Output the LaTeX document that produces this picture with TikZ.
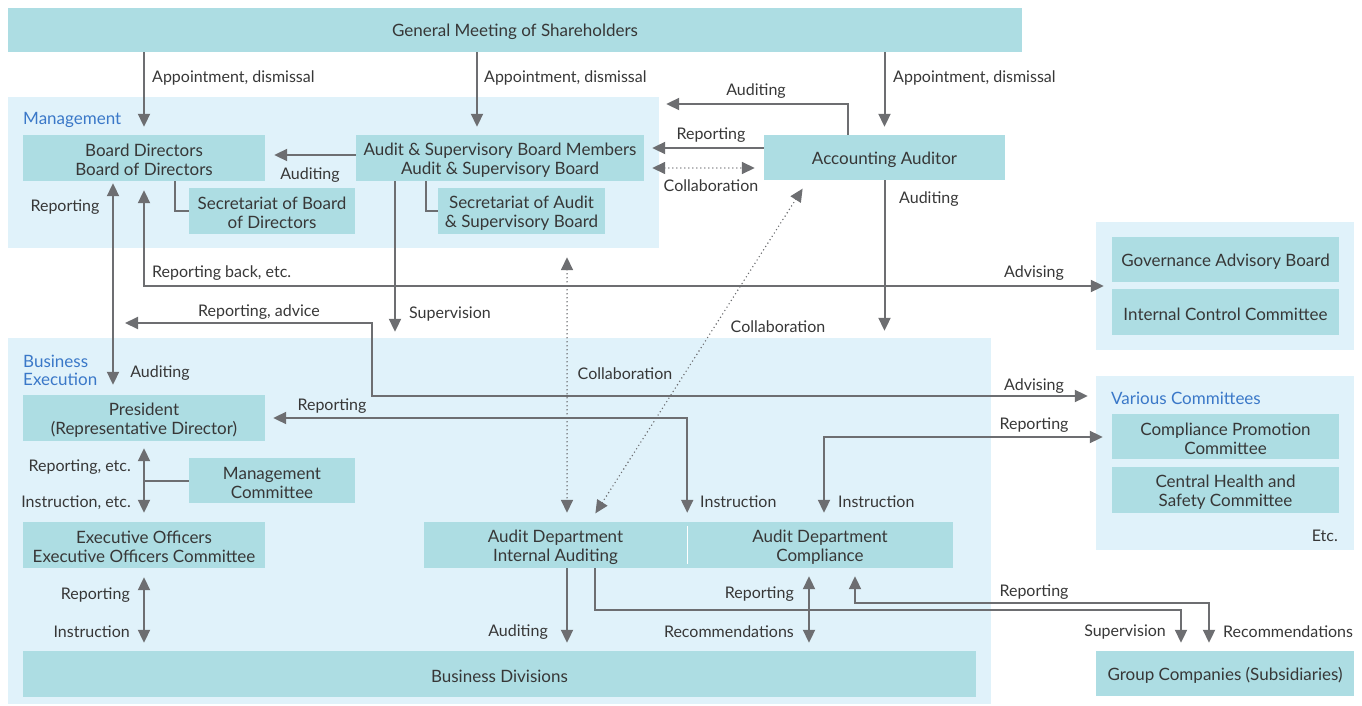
\documentclass[tikz,border=0pt]{standalone}
\usepackage{fontspec}
\setmainfont{Lato}
\usetikzlibrary{arrows.meta,calc}
\definecolor{boxc}{RGB}{173,221,227}
\definecolor{regc}{RGB}{224,242,250}
\definecolor{linec}{RGB}{109,110,113}
\definecolor{txtc}{RGB}{55,55,55}
\definecolor{bluec}{RGB}{58,120,200}
\begin{document}
\begin{tikzpicture}[x=1pt,y=-1pt,
  every node/.style={text=txtc, font=\fontsize{17}{19}\selectfont},
  bt/.style={inner sep=0pt, align=center, yshift=-2pt},
  box/.style={fill=boxc, inner sep=0pt, label={[bt]center:#1}},
  region/.style={fill=regc, inner sep=0pt},
  lbl/.style={inner sep=0pt, yshift=-2pt, font=\fontsize{16}{18}\selectfont},
  rlbl/.style={inner sep=0pt, yshift=-2pt, text=bluec, anchor=west, align=left, font=\fontsize{17}{18}\selectfont},
  >={Triangle[length=13pt,width=12pt]},
  conn/.style={draw=linec, line width=2pt},
  arr/.style={conn, ->},
  barr/.style={conn, <->},
  dotarr/.style={draw=linec, line width=1.6pt, line cap=round, dash pattern=on 0pt off 4pt, <->}
]
\useasboundingbox (0,0) rectangle (1362,706);

% regions
\node[region, minimum width=651, minimum height=151] (mgmt) at (333.5,172.5) {};
\node[region, minimum width=983, minimum height=366] (bexec) at (499.5,521) {};
\node[region, minimum width=258, minimum height=128] (gov) at (1225,286) {};
\node[region, minimum width=258, minimum height=174] (var) at (1225,463) {};

\node[rlbl] (mgmtl) at (23,118) {Management};
\node[rlbl] (bexecl) at (23,368) {Business\\Execution};
\node[rlbl] (varl) at (1111,396) {Various Committees};

% boxes
\node[box={General Meeting of Shareholders}, minimum width=1014, minimum height=44] (gms) at (515,30) {};
\node[box={Board Directors\\Board of Directors}, minimum width=242, minimum height=46] (bod) at (144,158) {};
\node[box={Secretariat of Board\\of Directors}, minimum width=166, minimum height=46] (secb) at (272,211) {};
\node[box={Audit \& Supervisory Board Members\\Audit \& Supervisory Board}, minimum width=288, minimum height=46] (asb) at (500,158) {};
\node[box={Secretariat of Audit\\\& Supervisory Board}, minimum width=167, minimum height=46] (seca) at (521.5,211) {};
\node[box={Accounting Auditor}, minimum width=241, minimum height=45] (aa) at (884.5,157.5) {};
\node[box={Governance Advisory Board}, minimum width=227, minimum height=45] (gab) at (1225.5,259.5) {};
\node[box={Internal Control Committee}, minimum width=227, minimum height=46] (icc) at (1225.5,312) {};
\node[box={President\\(Representative Director)}, minimum width=242, minimum height=46] (pres) at (144,418) {};
\node[box={Management\\Committee}, minimum width=166, minimum height=45] (mc) at (272,480.5) {};
\node[box={Executive Officers\\Executive Officers Committee}, minimum width=242, minimum height=46] (eo) at (144,545) {};
\node[box={Audit Department\\Internal Auditing}, minimum width=263, minimum height=46] (adi) at (555.5,545) {};
\node[box={Audit Department\\Compliance}, minimum width=266, minimum height=46] (adc) at (820,545) {};
\node[box={Compliance Promotion\\Committee}, minimum width=227, minimum height=45] (cpc) at (1225.5,436.5) {};
\node[box={Central Health and\\Safety Committee}, minimum width=227, minimum height=46] (chs) at (1225.5,490) {};
\node[box={Business Divisions}, minimum width=953, minimum height=46] (bd) at (499.5,674) {};
\node[box={Group Companies (Subsidiaries)}, minimum width=258, minimum height=45] (gc) at (1225,673.5) {};
\draw[white, line width=1pt] (687,526) -- (687,564);
\node[lbl, anchor=east] (etc) at (1338,534) {Etc.};

% helper coordinates
\coordinate (x113) at (113,0);
\coordinate (x175) at (175,0);
\coordinate (x395) at (395,0);
\coordinate (x426) at (426,0);
\coordinate (x477) at (477,0);
\coordinate (x567) at (567,0);
\coordinate (x595) at (595,0);
\coordinate (x808) at (808,0);
\coordinate (x590) at (590,0);
\coordinate (x809) at (809,0);
\coordinate (x824) at (824,0);
\coordinate (x848) at (848,0);
\coordinate (x855) at (855,0);
\coordinate (x1181) at (1181,0);
\coordinate (x1209) at (1209,0);
\coordinate (y104) at (0,104);
\coordinate (y148) at (0,148);
\coordinate (y155) at (0,155);
\coordinate (y168) at (0,168);
\coordinate (y286) at (0,286);
\coordinate (y396) at (0,396);
\coordinate (y418) at (0,418);
\coordinate (y437) at (0,437);
\coordinate (y603) at (0,603);
\coordinate (y610) at (0,610);
\coordinate (radv) at (125,323);
\coordinate (radvk) at (372,323);

% connectors
\draw[arr, shorten >=8pt] (gms.south -| bod) -- (bod.north);
\draw[arr, shorten >=8pt] (gms.south -| x477) -- (asb.north -| x477);
\draw[arr, shorten >=8pt] (gms.south -| aa) -- (aa.north);
\draw[arr, shorten >=9pt] (asb.west |- y155) -- (bod.east |- y155);
\draw[arr, shorten >=7pt] (aa.north -| x848) -- (x848 |- y104) -- (mgmt.east |- y104);
\draw[arr, shorten >=8pt] (aa.west |- y148) -- (asb.east |- y148);
\draw[dotarr, shorten <=8pt, shorten >=9pt] (asb.east |- y168) -- (aa.west |- y168);
\draw[arr, shorten >=7pt] (aa.south) -- (bexec.north -| aa);
\draw[barr, shorten <=10pt, shorten >=2pt] (pres.north -| x113) -- (bod.south -| x113);
\draw[barr, shorten <=9pt, shorten >=-8pt] (bod.south) -- (bod.south |- y286) -- (gov.west |- y286);
\draw[barr, shorten >=8pt] (radv) -- (radvk) -- (radvk |- y396) -- (var.west |- y396);
\draw[arr, shorten >=6pt] (asb.south -| x395) -- (bexec.north -| x395);
\draw[dotarr, shorten <=9pt, shorten >=9pt] (mgmt.south -| x567) -- (adi.north -| x567);
\draw[dotarr, shorten <=10pt, shorten >=10pt] (aa.south -| x808) -- (adi.north -| x590);
\draw[barr, shorten <=8pt, shorten >=9pt] (pres.east |- y418) -- (adi.north east |- y418) -- (adi.north east);
\draw[barr, shorten <=9pt, shorten >=-7pt] (adc.north -| x824) -- (x824 |- y437) -- (var.west |- y437);
\draw[barr, shorten <=7pt, shorten >=9pt] (pres.south) -- (eo.north);
\draw[conn] (mc.west) -- (mc.west -| pres);
\draw[conn] (bod.south -| x175) |- (secb.west);
\draw[conn] (asb.south -| x426) |- (seca.west);
\draw[barr, shorten <=9pt, shorten >=8pt] (eo.south) -- (bd.north -| eo);
\draw[arr, shorten >=8pt] (adi.south -| x567) -- (bd.north -| x567);
\draw[arr, shorten >=8pt] (adi.south -| x595) -- (x595 |- y610) -- (x1181 |- y610) -- (gc.north -| x1181);
\draw[barr, shorten <=8pt, shorten >=8pt] (adc.south -| x809) -- (bd.north -| x809);
\draw[barr, shorten <=8pt, shorten >=8pt] (adc.south -| x855) -- (x855 |- y603) -- (x1209 |- y603) -- (gc.north -| x1209);

% labels
\node[lbl, anchor=west] (l1) at (152,76) {Appointment, dismissal};
\node[lbl, anchor=west] (l2) at (484,76) {Appointment, dismissal};
\node[lbl, anchor=west] (l3) at (893,76) {Appointment, dismissal};
\node[lbl] (l4) at (310,173) {Auditing};
\node[lbl] (l5) at (756,89) {Auditing};
\node[lbl] (l6) at (711,133) {Reporting};
\node[lbl] (l7) at (711,184) {Collaboration};
\node[lbl, anchor=west] (l8) at (899,197) {Auditing};
\node[lbl] (l9) at (65,205) {Reporting};
\node[lbl, anchor=west] (l10) at (152,271) {Reporting back, etc.};
\node[lbl] (l11) at (1034,271) {Advising};
\node[lbl] (l12) at (259,310) {Reporting, advice};
\node[lbl, anchor=west] (l13) at (409,312) {Supervision};
\node[lbl] (l14) at (778,325) {Collaboration};
\node[lbl] (l15) at (160,371) {Auditing};
\node[lbl] (l16) at (625,372) {Collaboration};
\node[lbl] (l17) at (1034,384) {Advising};
\node[lbl] (l18) at (332,404) {Reporting};
\node[lbl] (l19) at (1034,423) {Reporting};
\node[lbl, anchor=east] (l20) at (131,465) {Reporting, etc.};
\node[lbl, anchor=east] (l21) at (131,501) {Instruction, etc.};
\node[lbl, anchor=west] (l22) at (700,500) {Instruction};
\node[lbl, anchor=west] (l23) at (838,500) {Instruction};
\node[lbl, anchor=east] (l24) at (130,593) {Reporting};
\node[lbl, anchor=east] (l25) at (130,630) {Instruction};
\node[lbl, anchor=east] (l26) at (794,592) {Reporting};
\node[lbl, anchor=east] (l27) at (794,630) {Recommendations};
\node[lbl, anchor=east] (l28) at (548,630) {Auditing};
\node[lbl] (l29) at (1034,590) {Reporting};
\node[lbl, anchor=east] (l30) at (1166,630) {Supervision};
\node[lbl, anchor=west] (l31) at (1223,630) {Recommendations};
\end{tikzpicture}
\end{document}
